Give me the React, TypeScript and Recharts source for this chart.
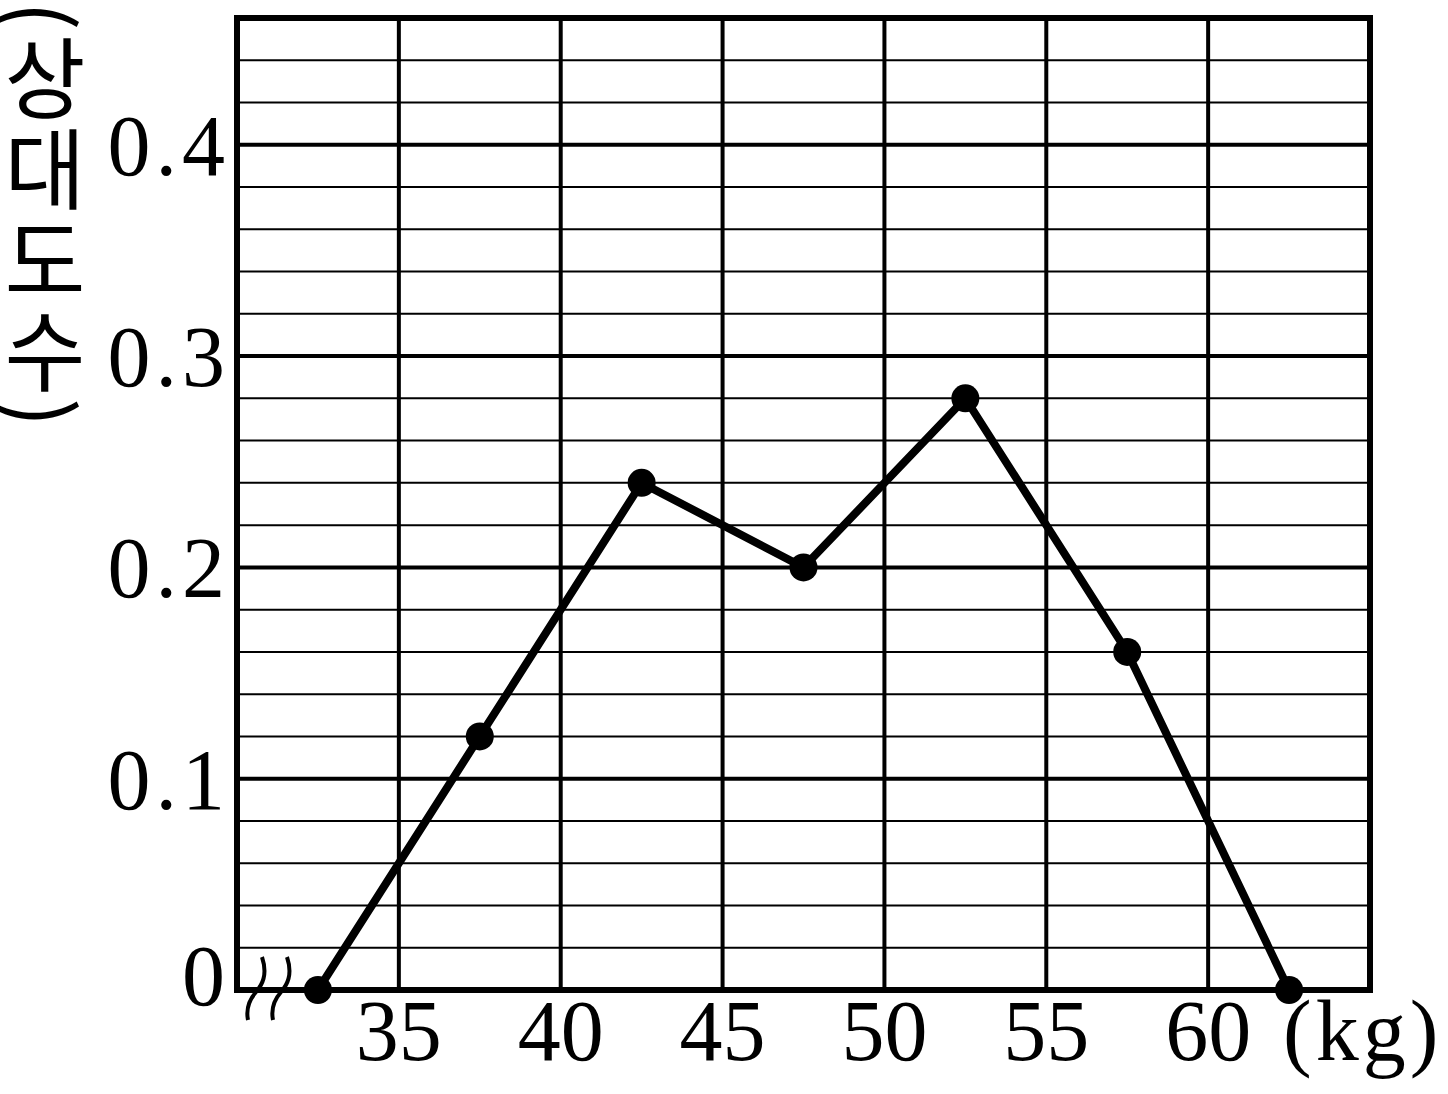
import React from 'react';
import { LineChart, Line, XAxis, YAxis, ReferenceLine, ReferenceArea, Label } from 'recharts';

// 상대도수 다각형 (relative frequency polygon), weights in kg
const classMids = [32.5, 37.5, 42.5, 47.5, 52.5, 57.5, 62.5];
const relFreq = [0, 0.12, 0.24, 0.2, 0.28, 0.16, 0];

const xTicks = [35, 40, 45, 50, 55, 60];
const yTicks = [0, 0.1, 0.2, 0.3, 0.4];
const yMinorLines = [
  0.02, 0.04, 0.06, 0.08, 0.12, 0.14, 0.16, 0.18, 0.22, 0.24, 0.26, 0.28,
  0.32, 0.34, 0.36, 0.38, 0.42, 0.44,
];
const yMajorLines = [0.1, 0.2, 0.3, 0.4];
const yTitle = '(상대도수)';

const data = classMids.map((x, i) => ({ x, v: relFreq[i] }));

const SERIF = '"Liberation Serif", "DejaVu Serif", serif';
const KR = '"Noto Sans CJK KR", sans-serif';
const FS = 86;

const XTick = (props: any) => {
  const { x, y, payload } = props;
  return (
    <text x={x} y={y + 70} textAnchor="middle" fontFamily={SERIF} fontSize={FS} fill="#000">
      {payload.value}
    </text>
  );
};

const YTick = (props: any) => {
  const { x, y, payload } = props;
  const v = payload.value;
  return (
    <text
      x={x + 5}
      y={y + (v === 0 ? 15 : 30)}
      textAnchor="end"
      fontFamily={SERIF}
      fontSize={FS}
      letterSpacing={5}
      fill="#000"
    >
      {v === 0 ? '0' : v.toFixed(1)}
    </text>
  );
};

// unit label + axis break mark under the x axis
const XDecor = (props: any) => {
  const vb = props.viewBox || { x: 237, y: 990, width: 1133 };
  const ox = vb.x;
  const oy = vb.y;
  const wave = (dx: number) =>
    `M ${ox + dx + 25} ${oy - 33} C ${ox + dx + 31} ${oy - 15}, ${ox + dx + 25} ${oy - 5}, ${ox + dx + 19} ${oy + 2} ` +
    `C ${ox + dx + 12} ${oy + 10}, ${ox + dx + 9} ${oy + 20}, ${ox + dx + 11} ${oy + 30}`;
  return (
    <g>
      <path d={wave(0)} fill="none" stroke="#000" strokeWidth={4} />
      <path d={wave(25)} fill="none" stroke="#000" strokeWidth={4} />
      <text x={ox + vb.width - 87} y={oy + 70} fontFamily={SERIF} fontSize={FS} letterSpacing={4} fill="#000">
        (kg)
      </text>
    </g>
  );
};

// vertical Korean axis title, set in vertical writing mode
const YDecor = (props: any) => {
  const vb = props.viewBox || { x: 0, y: 18 };
  return (
    <text
      x={vb.x + 45}
      y={vb.y - 17}
      fontFamily={KR}
      fontSize={88}
      letterSpacing={3}
      fill="#000"
      style={{ writingMode: 'vertical-rl' }}
    >
      {yTitle}
    </text>
  );
};

export default function App() {
  return (
    <div style={{ position: 'absolute', left: 0, top: 0, background: '#fff' }}>
      <LineChart width={1448} height={1094} data={data} margin={{ top: 18, right: 78, bottom: 0, left: 0 }}>
        <XAxis
          dataKey="x"
          type="number"
          domain={[30, 65]}
          ticks={xTicks}
          tick={<XTick />}
          tickLine={false}
          axisLine={false}
          tickSize={0}
          tickMargin={0}
          height={104}
          interval={0}
        >
          <Label content={<XDecor />} />
        </XAxis>
        <YAxis
          type="number"
          domain={[0, 0.46]}
          ticks={yTicks}
          tick={<YTick />}
          tickLine={false}
          axisLine={false}
          tickSize={0}
          tickMargin={12}
          width={237}
          interval={0}
        >
          <Label content={<YDecor />} />
        </YAxis>
        {yMinorLines.map((v) => (
          <ReferenceLine key={`m${v}`} y={v} stroke="#000" strokeWidth={2} />
        ))}
        {yMajorLines.map((v) => (
          <ReferenceLine key={`M${v}`} y={v} stroke="#000" strokeWidth={4} />
        ))}
        {xTicks.map((v) => (
          <ReferenceLine key={`x${v}`} x={v} stroke="#000" strokeWidth={4} />
        ))}
        <ReferenceArea x1={30} x2={65} y1={0} y2={0.46} fill="none" stroke="#000" strokeWidth={6} />
        <Line
          dataKey="v"
          type="linear"
          stroke="#000"
          strokeWidth={8}
          dot={{ r: 14, fill: '#000', stroke: 'none' }}
          isAnimationActive={false}
        />
      </LineChart>
    </div>
  );
}
